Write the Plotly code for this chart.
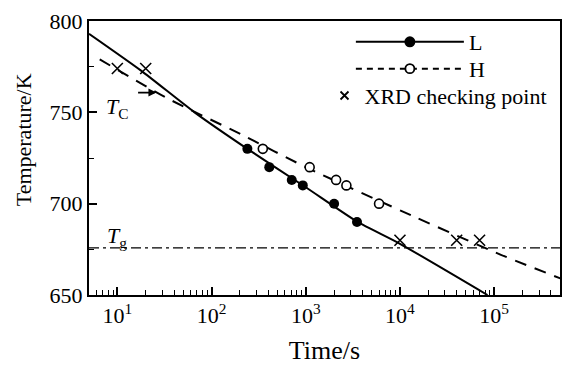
import numpy as np
import plotly.graph_objects as go

# ---- data ----
L_time = [240, 410, 710, 930, 2000, 3500]
L_temp = [730, 720, 713, 710, 700, 690]
H_time = [350, 1100, 2100, 2700, 6000]
H_temp = [730, 720, 713, 710, 700]
XRD_time = [10, 20, 1e4, 4e4, 7e4]
XRD_temp = [774, 774, 680, 680, 680]

L_fit_time = [5, 18, 66, 240, 1000, 3550, 9800, 85000]
L_fit_temp = [793, 772.7, 750, 730, 709, 690, 678.3, 650]
H_fit_time = [6.5, 33, 205, 1000, 14000, 118000, 510000]
H_fit_temp = [779, 758, 738, 720, 693, 672, 659]

TG = 675.8
TC_LABEL_POS = (10, 752.5)
TC_ARROW = (16, 26, 760.8)   # tail time, head time, temperature
TG_LABEL_POS = (10, 681.5)

x_tickvals = [10, 100, 1000, 10000, 100000]
x_ticktext = ["10<sup>1</sup>", "10<sup>2</sup>", "10<sup>3</sup>", "10<sup>4</sup>", "10<sup>5</sup>"]
y_tickvals = [650, 700, 750, 800]

FONT = "Liberation Serif"
FS = 22
LFS = 22

fig = go.Figure()

# fitted curves
fig.add_trace(go.Scatter(x=L_fit_time, y=L_fit_temp, mode="lines", line=dict(color="black", width=2, shape="spline", smoothing=0.6), showlegend=False, hoverinfo="skip"))
fig.add_trace(go.Scatter(x=H_fit_time, y=H_fit_temp, mode="lines", line=dict(color="black", width=2, dash="12px,9px", shape="spline", smoothing=0.6), showlegend=False, hoverinfo="skip"))

# data points
fig.add_trace(go.Scatter(x=L_time, y=L_temp, mode="markers", marker=dict(symbol="circle", size=10, color="black"), showlegend=False))
fig.add_trace(go.Scatter(x=H_time, y=H_temp, mode="markers", marker=dict(symbol="circle", size=9, color="white", line=dict(width=1.6, color="black")), showlegend=False))
fig.add_trace(go.Scatter(x=XRD_time, y=XRD_temp, mode="markers", marker=dict(symbol="x-thin", size=11, color="black", line=dict(width=1.6, color="black")), showlegend=False))

# legend entries (one legend per row to mimic the reference layout)
fig.add_trace(go.Scatter(x=[None], y=[None], mode="lines+markers", name="L", legend="legend", line=dict(color="black", width=2), marker=dict(symbol="circle", size=11, color="black")))
fig.add_trace(go.Scatter(x=[None], y=[None], mode="lines+markers", name="H", legend="legend3", line=dict(color="black", width=2, dash="6px,5px"), marker=dict(symbol="circle", size=9, color="white", line=dict(width=1.8, color="black"))))
fig.add_trace(go.Scatter(x=[None], y=[None], mode="markers", name="XRD checking point", legend="legend2", marker=dict(symbol="x-thin", size=8, color="black", line=dict(width=1.8, color="black"))))

# Tg line
fig.add_shape(type="line", xref="paper", x0=0, x1=1, yref="y", y0=TG, y1=TG, line=dict(color="black", width=1.3, dash="10px,4px,3px,4px"))

# annotations
fig.add_annotation(x=np.log10(TC_LABEL_POS[0]), y=TC_LABEL_POS[1], text="<i>T</i><sub>C</sub>", showarrow=False, font=dict(family=FONT, size=FS, color="black"))
fig.add_annotation(x=np.log10(TC_ARROW[1]), y=TC_ARROW[2], ax=np.log10(TC_ARROW[0]), ay=TC_ARROW[2], axref="x", ayref="y", text="", showarrow=True, arrowhead=2, arrowsize=1, arrowwidth=1.6, arrowcolor="black")
fig.add_annotation(x=np.log10(TG_LABEL_POS[0]), y=TG_LABEL_POS[1], text="<i>T</i><sub>g</sub>", showarrow=False, font=dict(family=FONT, size=FS, color="black"))
# y-axis title (sits above the axis centre in the reference)
fig.add_annotation(xref="paper", yref="paper", x=-0.14, y=0.565, text="Temperature/K", textangle=-90, showarrow=False, xanchor="center", yanchor="middle", font=dict(family=FONT, size=FS, color="black"))

legend_common = dict(xanchor="left", yanchor="top", bgcolor="rgba(0,0,0,0)", font=dict(family=FONT, size=LFS))

fig.update_layout(
    width=566, height=365,
    margin=dict(l=89, r=4, t=21, b=69),
    paper_bgcolor="white", plot_bgcolor="white",
    font=dict(family=FONT, size=FS, color="black"),
    legend=dict(x=0.556, y=1.0, itemwidth=108, **legend_common),
    legend3=dict(x=0.556, y=0.902, itemwidth=108, **legend_common),
    legend2=dict(x=0.50, y=0.804, itemwidth=30, **legend_common),
    xaxis=dict(type="log", range=[np.log10(5), np.log10(5e5)], tickvals=x_tickvals, ticktext=x_ticktext,
               ticks="inside", ticklen=8, tickwidth=1.5, tickcolor="black",
               minor=dict(ticks="inside", ticklen=5, tickwidth=1.2, tickcolor="black", dtick="D1", showgrid=False),
               showline=True, linewidth=2, linecolor="black", mirror=True, showgrid=False, zeroline=False,
               title=dict(text="Time/s", standoff=14), tickfont=dict(size=FS)),
    yaxis=dict(range=[650, 800], tickvals=y_tickvals,
               ticks="inside", ticklen=8, tickwidth=1.5, tickcolor="black",
               minor=dict(ticks="inside", ticklen=5, tickwidth=1.2, tickcolor="black", dtick=25, showgrid=False),
               showline=True, linewidth=2, linecolor="black", mirror=True, showgrid=False, zeroline=False,
               tickfont=dict(size=FS)),
)

fig.write_html("out.html")
